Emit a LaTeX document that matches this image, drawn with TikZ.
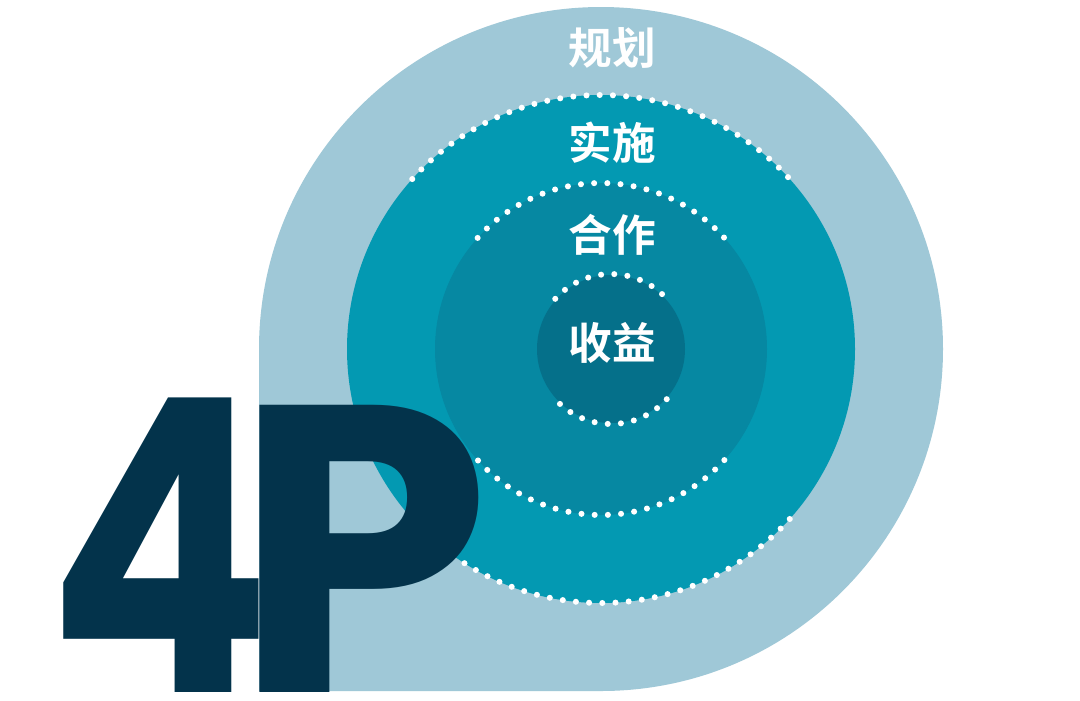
\documentclass[tikz,border=0pt]{standalone}
\usepackage{fontspec}
\usepackage{tikz}
\usepackage{xcolor}
\usetikzlibrary{positioning}
\newfontfamily\cjk{Noto Sans CJK SC Bold}
\newfontfamily\bigfont{Poppins Bold}
\definecolor{ringA}{HTML}{9FC8D7}
\definecolor{ringB}{HTML}{0399B2}
\definecolor{ringC}{HTML}{0688A2}
\definecolor{ringD}{HTML}{05708A}
\definecolor{navy}{HTML}{03334B}
\tikzset{
  ringlabel/.style={
    text=white, inner sep=0pt, anchor=center,
    font=\cjk\fontsize{31}{31}\selectfont
  },
  dotline/.style={
    draw=white, line width=4.3pt, line cap=round,
    dash pattern=on 0pt off 9.4pt
  },
  bigtext/.style={
    text=navy, inner sep=0pt, text depth=0pt,
    font=\bigfont\fontsize{291}{291}\selectfont
  }
}

\begin{document}
\begin{tikzpicture}[x=0.025cm, y=-0.025cm]
    \useasboundingbox (0,0) rectangle (1080,700);
    \fill[white] (0,0) rectangle (1080,700);

    \fill[ringA] (259,349) arc[start angle=180, end angle=450, radius=342] -- (259,691) -- cycle;
    \fill[ringB] (601,349) circle[radius=254];
    \fill[ringC] (601,349) circle[radius=166];
    \fill[ringD] (611,349) circle[radius=74];

    \foreach \r in {254,166} {
      \draw[dotline] (601,349) ++(222:\r) arc[start angle=222, end angle=318, radius=\r];
      \draw[dotline] (601,349) ++(42:\r) arc[start angle=42, end angle=138, radius=\r];
    }
    \draw[dotline] (611,349) ++(222:75) arc[start angle=222, end angle=318, radius=75];
    \draw[dotline] (611,349) ++(42:75) arc[start angle=42, end angle=138, radius=75];

    \node[ringlabel] (plan) at (612,48) {规划};
    \node[ringlabel] (impl) at (612,143) {实施};
    \node[ringlabel] (coop) at (612,235) {合作};
    \node[ringlabel] (gain) at (612,343) {收益};

    \node[bigtext, anchor=base west] (fourp) at (47,692) {\scalebox{0.81}[1]{4}\kern-0.09em P};
  \end{tikzpicture}
\end{document}
